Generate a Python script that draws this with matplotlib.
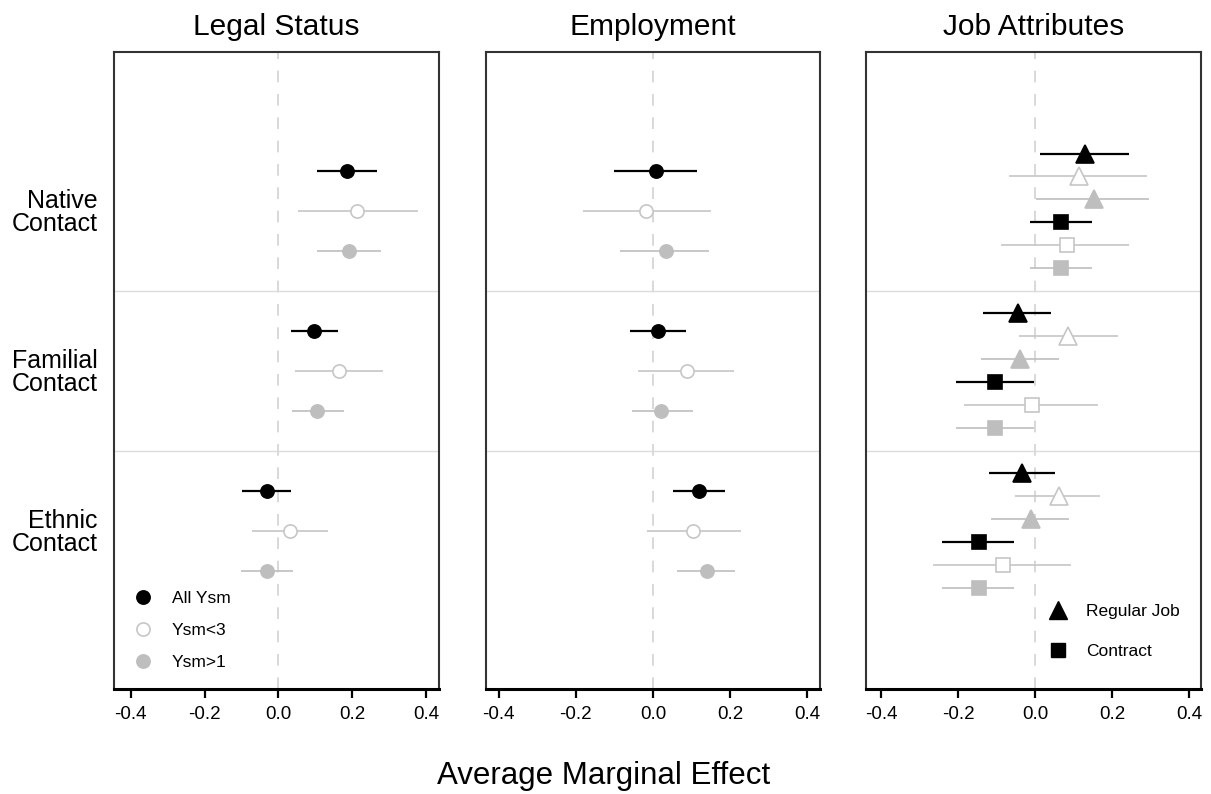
import matplotlib
matplotlib.use('Agg')
import matplotlib.pyplot as plt
from matplotlib.lines import Line2D

plt.rcParams['font.family'] = ['Liberation Sans', 'DejaVu Sans']

# ---------------- data ----------------
contacts = ['Native\nContact', 'Familial\nContact', 'Ethnic\nContact']
panel_titles = ['Legal Status', 'Employment', 'Job Attributes']
samples = ['All Ysm', 'Ysm<3', 'Ysm>1']
job_types = ['Regular Job', 'Contract']
xticks = [-0.4, -0.2, 0.0, 0.2, 0.4]
xlabel = 'Average Marginal Effect'

# rows: contact (Native, Familial, Ethnic); columns: sample (All, <3, >1)
legal_est = [[0.185, 0.212, 0.191], [0.096, 0.164, 0.106], [-0.031, 0.032, -0.031]]
legal_lo = [[0.104, 0.053, 0.104], [0.035, 0.046, 0.036], [-0.098, -0.070, -0.102]]
legal_hi = [[0.268, 0.379, 0.278], [0.163, 0.284, 0.178], [0.034, 0.136, 0.040]]

empl_est = [[0.007, -0.018, 0.033], [0.012, 0.087, 0.022], [0.118, 0.103, 0.139]]
empl_lo = [[-0.101, -0.181, -0.085], [-0.060, -0.040, -0.054], [0.051, -0.015, 0.061]]
empl_hi = [[0.115, 0.150, 0.145], [0.085, 0.211, 0.104], [0.187, 0.227, 0.212]]

regular_est = [[0.131, 0.113, 0.153], [-0.045, 0.085, -0.038], [-0.035, 0.062, -0.010]]
regular_lo = [[0.013, -0.068, 0.002], [-0.134, -0.042, -0.139], [-0.119, -0.053, -0.113]]
regular_hi = [[0.245, 0.290, 0.296], [0.042, 0.215, 0.062], [0.053, 0.169, 0.088]]

contract_est = [[0.068, 0.083, 0.068], [-0.105, -0.009, -0.105], [-0.145, -0.084, -0.145]]
contract_lo = [[-0.012, -0.088, -0.012], [-0.205, -0.184, -0.205], [-0.242, -0.266, -0.242]]
contract_hi = [[0.149, 0.245, 0.149], [-0.003, 0.164, -0.002], [-0.054, 0.093, -0.054]]

# ---------------- styles ----------------
W, H = 1211, 794
BLACK = '#000000'
LGRAY = '#c6c6c6'
MGRAY = '#bebebe'
line_col = [BLACK, LGRAY, MGRAY]
face_col = [BLACK, 'white', MGRAY]
edge_col = [BLACK, LGRAY, MGRAY]
line_w = [1.6, 1.2, 1.2]
group_center = [4, 8, 12]
separators = [6, 10]

fig = plt.figure(figsize=(W / 100, H / 100), dpi=100)

panel_px = [(114, 439), (486, 820), (866, 1201)]
zero_px = [278.3, 653.0, 1035.0]
scale_px = [369.0, 386.0, 385.0]
top_px, bot_px = 52, 689

axes = []
for i, ((l, r), z, s) in enumerate(zip(panel_px, zero_px, scale_px)):
    ax = fig.add_axes([l / W, (H - bot_px) / H, (r - l) / W, (bot_px - top_px) / H])
    ax.set_xlim((l - z) / s, (r - z) / s)
    ax.set_ylim(15.96, 0.03)
    axes.append(ax)

for i, ax in enumerate(axes):
    ax.axvline(0, color='#d8d8d8', lw=1.4, ls=(0, (6, 6)), zorder=1)
    for sp in separators:
        ax.axhline(sp, color='#dcdcdc', lw=1.0, zorder=1)
    for side in ['left', 'right', 'top']:
        ax.spines[side].set_color('#333333')
        ax.spines[side].set_linewidth(1.5)
    ax.spines['bottom'].set_color('black')
    ax.spines['bottom'].set_linewidth(2.2)
    ax.set_xticks(xticks)
    ax.set_xticklabels(['%.1f' % t for t in xticks])
    ax.tick_params(axis='x', direction='out', length=6.5, width=1.6, labelsize=13.5, pad=5.5)
    ax.set_title(panel_titles[i], fontsize=21.5, pad=12)
    if i == 0:
        ax.set_yticks(group_center)
        ax.set_yticklabels(contacts, fontsize=18, linespacing=0.95)
        ax.tick_params(axis='y', length=0, pad=12)
    else:
        ax.set_yticks([])

# Panels 1 and 2: circles
for ax, est, lo, hi in [(axes[0], legal_est, legal_lo, legal_hi),
                        (axes[1], empl_est, empl_lo, empl_hi)]:
    for c in range(3):
        for s in range(3):
            y = group_center[c] + (s - 1)
            ax.hlines(y, lo[c][s], hi[c][s], color=line_col[s], lw=line_w[s], zorder=2)
            ax.plot(est[c][s], y, marker='o', ms=9.5, mfc=face_col[s], mec=edge_col[s],
                    mew=1.2, ls='none', zorder=3)

# Panel 3: triangles (regular job) and squares (contract)
job_data = [(regular_est, regular_lo, regular_hi, '^', 12.5),
            (contract_est, contract_lo, contract_hi, 's', 10.5)]
step = 0.5725
for j, (est, lo, hi, mk, ms) in enumerate(job_data):
    for c in range(3):
        for s in range(3):
            k = j * 3 + s
            y = group_center[c] + (k - 2.5) * step
            axes[2].hlines(y, lo[c][s], hi[c][s], color=line_col[s], lw=line_w[s], zorder=2)
            axes[2].plot(est[c][s], y, marker=mk, ms=ms, mfc=face_col[s], mec=edge_col[s],
                         mew=1.2, ls='none', zorder=3)

# Legends
h1 = [Line2D([], [], marker='o', ms=9.5, mfc=face_col[s], mec=edge_col[s], mew=1.2, ls='none')
      for s in range(3)]
axes[0].legend(h1, samples, loc='center left', bbox_to_anchor=(0.0634, 0.0926),
               frameon=False, fontsize=12.5, handlelength=1.0, handletextpad=1.13,
               labelspacing=0.97, borderpad=0, borderaxespad=0)
h3 = [Line2D([], [], marker='^', ms=12.5, mfc=BLACK, mec=BLACK, ls='none'),
      Line2D([], [], marker='s', ms=10.5, mfc=BLACK, mec=BLACK, ls='none')]
axes[2].legend(h3, job_types, loc='center left', bbox_to_anchor=(0.546, 0.09),
               frameon=False, fontsize=12.5, handlelength=1.0, handletextpad=1.13,
               labelspacing=1.44, borderpad=0, borderaxespad=0)

fig.text(604 / W, (H - 784) / H, xlabel, ha='center', va='baseline', fontsize=22.5)

fig.savefig('out.png', dpi=100)
